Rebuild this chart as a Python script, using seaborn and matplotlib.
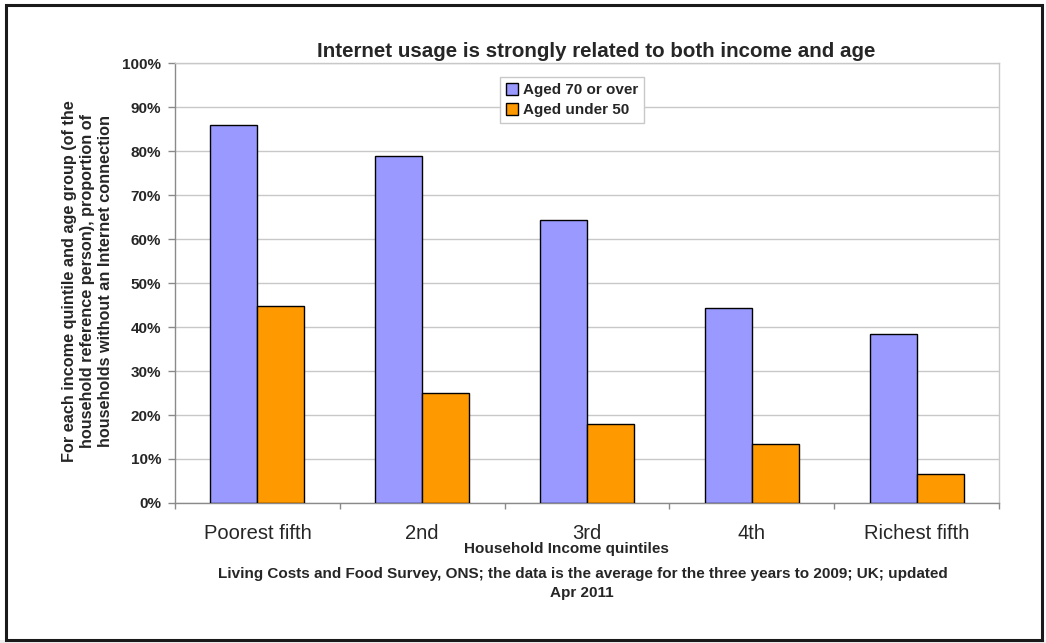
import matplotlib
matplotlib.use("Agg")
import matplotlib.pyplot as plt
import matplotlib.patches as mpatches
from matplotlib.ticker import PercentFormatter, FixedLocator
import seaborn as sns
import pandas as pd

# Share of households without an internet connection, by income quintile
quintiles = ["Poorest fifth", "2nd", "3rd", "4th", "Richest fifth"]
aged_70_plus = [0.860, 0.789, 0.644, 0.444, 0.385]
aged_under_50 = [0.447, 0.251, 0.180, 0.134, 0.067]
series_names = ["Aged 70 or over", "Aged under 50"]
series_colors = ["#9999FF", "#FF9900"]

df = pd.DataFrame({
    "quintile": quintiles * 2,
    "group": [series_names[0]] * len(quintiles) + [series_names[1]] * len(quintiles),
    "share": aged_70_plus + aged_under_50,
})

sns.set_theme(style="white")
plt.rcParams["font.family"] = ["Liberation Sans", "DejaVu Sans"]

fig = plt.figure(figsize=(10.46, 6.43), dpi=100)
ax = fig.add_axes([175 / 1046, 1 - 503 / 643, 824 / 1046, 440 / 643])

sns.barplot(
    data=df, x="quintile", y="share", hue="group",
    order=quintiles, hue_order=series_names,
    palette=series_colors, width=0.57, gap=0,
    edgecolor="black", linewidth=1.0, saturation=1,
    errorbar=None, ax=ax, zorder=3,
)

ax.set_xlim(-0.5, len(quintiles) - 0.5)
ax.set_ylim(0, 1.0)
ax.yaxis.set_major_locator(FixedLocator([i / 10 for i in range(11)]))
ax.yaxis.set_major_formatter(PercentFormatter(1.0, decimals=0))
ax.grid(axis="y", color="#c8c8c8", linewidth=1.0, zorder=0)
ax.set_axisbelow(True)

for side in ["top", "right"]:
    ax.spines[side].set_visible(True)
    ax.spines[side].set_color("#c8c8c8")
    ax.spines[side].set_linewidth(1.0)
for side in ["left", "bottom"]:
    ax.spines[side].set_visible(True)
    ax.spines[side].set_color("#8a8a8a")
    ax.spines[side].set_linewidth(1.0)

ax.tick_params(axis="y", which="major", left=True, length=5, width=1,
               color="#8a8a8a", pad=5, labelsize=11)
for lbl in ax.get_yticklabels():
    lbl.set_fontweight("bold")

# category labels centred, tick marks between categories
ax.tick_params(axis="x", which="major", bottom=False, pad=9, labelsize=14.5)
ax.set_xticks(range(len(quintiles)))
ax.set_xticklabels(quintiles)
ax.set_xticks([i - 0.5 for i in range(len(quintiles) + 1)], minor=True)
ax.tick_params(axis="x", which="minor", bottom=True, length=4, width=1,
               color="#8a8a8a")

ax.set_xlabel("Household Income quintiles", fontsize=11, fontweight="bold")
ax.xaxis.set_label_coords((566 - 175) / 824, (503 - 542) / 440)
ax.set_ylabel("For each income quintile and age group (of the\n"
              "household reference person), proportion of\n"
              "households without an Internet connection",
              fontsize=11.7, fontweight="bold", linespacing=1.25)
ax.yaxis.set_label_coords((113 - 175) / 824, (503 - 281) / 440)

ax.set_title("Internet usage is strongly related to both income and age",
             fontsize=14.8, fontweight="bold", pad=4)
ax.title.set_x((596 - 175) / 824)

handles = [mpatches.Patch(facecolor=c, edgecolor="black", linewidth=1.0)
           for c in series_colors]
leg = ax.legend(handles, series_names, loc="upper left",
                bbox_to_anchor=((500 - 175) / 824, (503 - 77) / 440),
                frameon=True, fancybox=False, edgecolor="#c8c8c8",
                framealpha=1, handlelength=0.8, handleheight=0.8,
                handletextpad=0.3, borderpad=0.4, labelspacing=0.38,
                borderaxespad=0,
                prop={"size": 11, "weight": "bold"})
leg.get_frame().set_linewidth(1.0)

fig.text(583 / 1046, 1 - 574 / 643,
         "Living Costs and Food Survey, ONS; the data is the average for the three years to 2009; UK; updated",
         ha="center", va="center", fontsize=11, fontweight="bold")
fig.text(582 / 1046, 1 - 593 / 643, "Apr 2011",
         ha="center", va="center", fontsize=11, fontweight="bold")

# outer chart frame and page strip underneath
fig.patches.append(mpatches.Rectangle((0, 0), 1, 3 / 643, transform=fig.transFigure,
                                      facecolor="#eeeeee", edgecolor="none", zorder=0))
fig.patches.append(mpatches.Rectangle((6 / 1046, 3 / 643), 1036 / 1046, 635 / 643,
                                      transform=fig.transFigure, facecolor="none",
                                      edgecolor="#1a1a1a", linewidth=2.2, zorder=5))

fig.savefig("out.png", dpi=100)
